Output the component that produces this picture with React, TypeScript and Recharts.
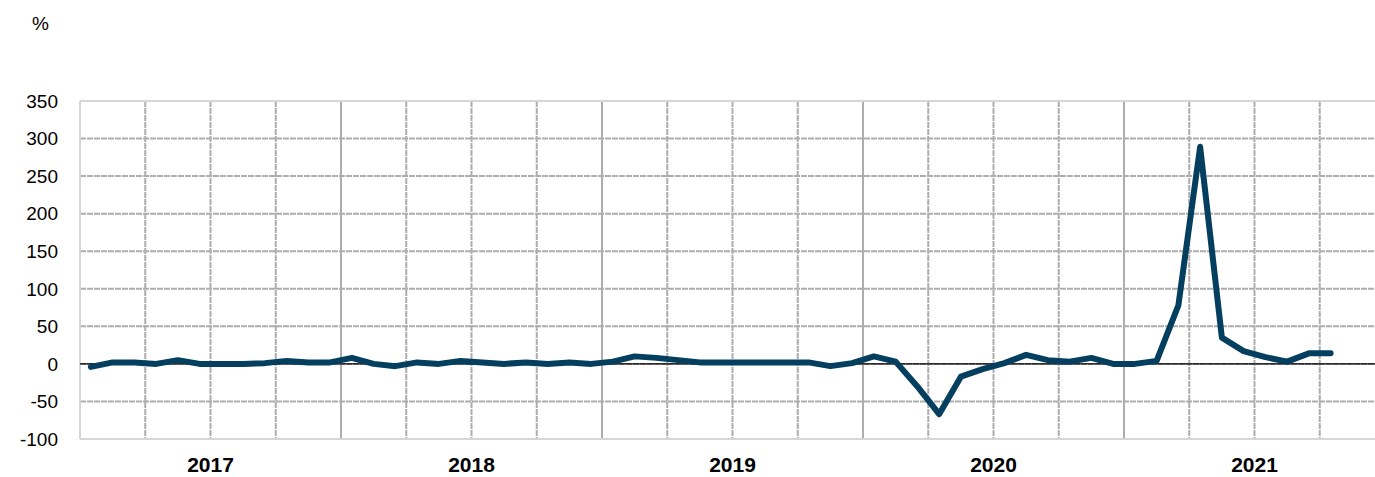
import React from "react";
import { LineChart, Line, XAxis, YAxis, CartesianGrid, ReferenceLine } from "recharts";

const years = ["2017", "2018", "2019", "2020", "2021"];
const monthsPerYear = 12;

const values: (number | null)[] = [
  // 2017
  -4, 2, 2, 0, 5, 0, 0, 0, 1, 4, 2, 2,
  // 2018
  8, 0, -3, 2, 0, 4, 2, 0, 2, 0, 2, 0,
  // 2019
  3, 10, 8, 5, 2, 2, 2, 2, 2, 2, -3, 1,
  // 2020
  10, 3, -30, -67, -17, -7, 1, 12, 5, 3, 8, 0,
  // 2021
  0, 4, 78, 289, 35, 17, 9, 3, 14, 14, null, null,
];

const months: string[] = years.flatMap((y) =>
  Array.from({ length: monthsPerYear }, (_, m) => `${y}-${String(m + 1).padStart(2, "0")}`)
);

const yTicks = [-100, -50, 0, 50, 100, 150, 200, 250, 300, 350];

const data = months.map((m, i) => ({ month: m, x: i + 0.5, value: values[i] }));

const totalMonths = months.length;
const yearMidTicks = years.map((_, i) => i * monthsPerYear + monthsPerYear / 2);
const yearBoundaries = years.slice(1).map((_, i) => (i + 1) * monthsPerYear);
const quarterLines: number[] = [];
for (let q = 3; q < totalMonths; q += 3) {
  if (q % monthsPerYear !== 0) quarterLines.push(q);
}

const FONT = "'Liberation Sans', Arial, sans-serif";

export default function App() {
  return (
    <div
      style={{
        position: "absolute",
        left: 0,
        top: 0,
        width: 1375,
        height: 477,
        overflow: "hidden",
        background: "#fff",
        fontFamily: FONT,
      }}
    >
      <div
        style={{
          position: "absolute",
          left: 32,
          top: 14,
          fontSize: 19,
          lineHeight: "19px",
          color: "#000",
          fontFamily: FONT,
        }}
      >
        %
      </div>
      <LineChart
        width={1385}
        height={477}
        data={data}
        margin={{ top: 101, right: 0, bottom: 0, left: 0 }}
      >
        <CartesianGrid
          stroke="#adadad"
          strokeWidth={2}
          strokeDasharray="6 1"
          horizontalValues={[-50, 0, 50, 100, 150, 200, 250, 300]}
          verticalValues={quarterLines}
        />
        <XAxis
          type="number"
          dataKey="x"
          domain={[0, totalMonths]}
          ticks={yearMidTicks}
          tickFormatter={(v: number) => years[Math.floor(v / monthsPerYear)] ?? ""}
          axisLine={false}
          tickLine={false}
          tickSize={0}
          tickMargin={18}
          height={38}
          interval={0}
          tick={{ fontSize: 21, fontWeight: "bold", fill: "#000", fontFamily: FONT }}
        />
        <YAxis
          type="number"
          domain={[-100, 350]}
          ticks={yTicks}
          interval={0}
          axisLine={false}
          tickLine={false}
          tickSize={0}
          tickMargin={22}
          width={80}
          tick={{ fontSize: 19, fill: "#000", fontFamily: FONT }}
        />
        {yearBoundaries.map((b) => (
          <ReferenceLine key={b} x={b} stroke="#adadad" strokeWidth={2} />
        ))}
        <ReferenceLine y={350} stroke="#d6d6d6" strokeWidth={2} />
        <ReferenceLine y={-100} stroke="#d6d6d6" strokeWidth={2} />
        <ReferenceLine x={0} stroke="#d6d6d6" strokeWidth={2} />
        <ReferenceLine y={0} stroke="#000" strokeWidth={1.2} />
        <Line
          type="linear"
          dataKey="value"
          stroke="#053f5f"
          strokeWidth={6}
          strokeLinejoin="round"
          strokeLinecap="round"
          dot={false}
          activeDot={false}
          isAnimationActive={false}
        />
      </LineChart>
    </div>
  );
}
